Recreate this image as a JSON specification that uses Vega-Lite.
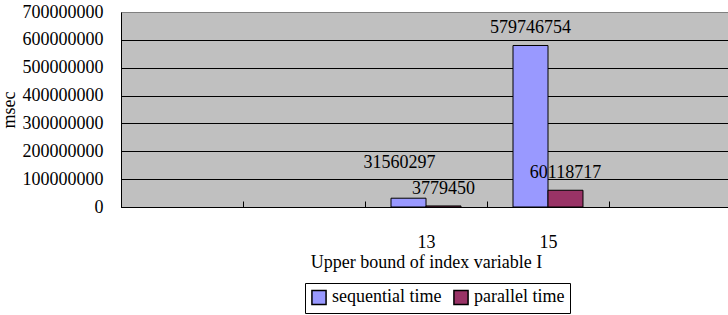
{
  "$schema": "https://vega.github.io/schema/vega-lite/v6.json",
  "width": 610,
  "height": 195,
  "autosize": {"type": "none"},
  "padding": {"left": 121, "top": 12, "right": 0, "bottom": 108},
  "background": "white",
  "config": {
    "font": "Liberation Serif",
    "axis": {"labelFont": "Liberation Serif", "titleFont": "Liberation Serif"},
    "legend": {"labelFont": "Liberation Serif"},
    "text": {"font": "Liberation Serif"},
    "view": {"fill": "#C0C0C0", "stroke": "#808080", "strokeWidth": 1}
  },
  "data": {
    "values": [
      {"bound": "13", "series": "sequential time", "value": 31560297},
      {"bound": "13", "series": "parallel time", "value": 3779450},
      {"bound": "15", "series": "sequential time", "value": 579746754},
      {"bound": "15", "series": "parallel time", "value": 60118717}
    ]
  },
  "encoding": {
    "x": {
      "field": "bound",
      "type": "nominal",
      "scale": {"domain": ["9", "11", "13", "15", "17"], "paddingInner": 0, "paddingOuter": 0},
      "axis": {
        "title": "Upper bound of index variable I",
        "labelExpr": "indexof(['13','15'], datum.label) >= 0 ? datum.label : ''",
        "labelAngle": 0,
        "labelFontSize": 18,
        "labelColor": "black",
        "labelPadding": 32,
        "titleFontSize": 18,
        "titleFontWeight": "normal",
        "titleColor": "black",
        "titlePadding": 2,
        "tickBand": "extent",
        "tickSize": -6,
        "tickColor": "black",
        "domainColor": "black",
        "grid": false
      }
    },
    "xOffset": {
      "field": "series",
      "scale": {"domain": ["sequential time", "parallel time"], "paddingInner": 0, "paddingOuter": 0.743}
    },
    "y": {
      "field": "value",
      "type": "quantitative",
      "scale": {"domain": [0, 700000000], "nice": false},
      "axis": {
        "title": "msec",
        "values": [0, 100000000, 200000000, 300000000, 400000000, 500000000, 600000000, 700000000],
        "format": "d",
        "labelFontSize": 18,
        "labelColor": "black",
        "labelPadding": 18,
        "ticks": false,
        "domainColor": "black",
        "grid": true,
        "gridColor": {"condition": {"test": "datum.value == 700000000", "value": "#808080"}, "value": "black"},
        "gridOpacity": 1,
        "titleFontSize": 18,
        "titleFontWeight": "normal",
        "titleColor": "black",
        "titlePadding": 4
      }
    }
  },
  "layer": [
    {
      "mark": {"type": "bar", "stroke": "black", "strokeWidth": 1},
      "encoding": {
        "color": {
          "field": "series",
          "type": "nominal",
          "scale": {"domain": ["sequential time", "parallel time"], "range": ["#9999FF", "#993366"]},
          "legend": {
            "title": null,
            "orient": "none",
            "legendX": 184,
            "legendY": 271,
            "direction": "horizontal",
            "strokeColor": "black",
            "padding": 5,
            "symbolType": "square",
            "symbolSize": 200,
            "symbolStrokeColor": "black",
            "symbolStrokeWidth": 1.5,
            "labelFontSize": 18,
            "labelColor": "black",
            "labelOffset": 4,
            "columnPadding": 8
          }
        }
      }
    },
    {
      "transform": [{"filter": "datum.value != 31560297"}],
      "mark": {"type": "text", "dy": -12, "fontSize": 18, "font": "Liberation Serif", "color": "black", "baseline": "alphabetic"},
      "encoding": {"text": {"field": "value", "type": "quantitative", "format": "d"}}
    },
    {
      "transform": [{"filter": "datum.value == 31560297"}],
      "mark": {"type": "text", "dy": -30, "dx": -9, "fontSize": 18, "font": "Liberation Serif", "color": "black", "baseline": "alphabetic"},
      "encoding": {"text": {"field": "value", "type": "quantitative", "format": "d"}}
    }
  ]
}
